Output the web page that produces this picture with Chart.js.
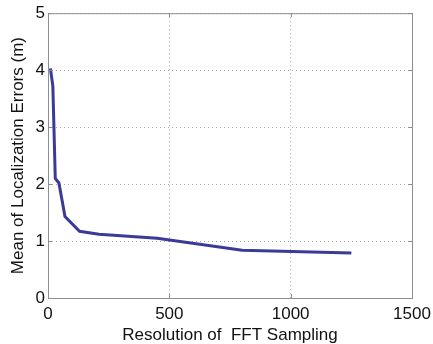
<!DOCTYPE html>
<html>
<head>
<meta charset="utf-8">
<script src="https://cdn.jsdelivr.net/npm/chart.js@4"></script>
<style>
  html, body { margin: 0; padding: 0; background: #fff; }
  #wrap { width: 433px; height: 344px; }
</style>
</head>
<body>
<div id="wrap"><canvas id="myChart"></canvas></div>
<script>
const resolution = [10, 20, 30, 45, 70, 130, 210, 450, 800, 1250];
const meanError = [4.03, 3.72, 2.1, 2.02, 1.43, 1.17, 1.12, 1.05, 0.84, 0.79];
const xTicks = [0, 500, 1000, 1500];
const yTicks = [0, 1, 2, 3, 4, 5];

const points = resolution.map((x, i) => ({ x: x, y: meanError[i] }));

// box around the plot area + small inward ticks, like matlab
const boxPlugin = {
   id: "box",
   afterDraw(chart) {
      const a = chart.chartArea;
      const c = chart.ctx;
      const sx = chart.scales.x, sy = chart.scales.y;
      c.save();
      c.strokeStyle = "#8a8f96";
      c.lineWidth = 1;
      c.strokeRect(a.left + 0.5, a.top + 0.5, a.right - a.left, a.bottom - a.top);
      c.beginPath();
      xTicks.forEach((v) => {
         const p = Math.round(sx.getPixelForValue(v)) + 0.5;
         c.moveTo(p, a.bottom); c.lineTo(p, a.bottom - 4);
         c.moveTo(p, a.top); c.lineTo(p, a.top + 4);
      });
      yTicks.forEach((v) => {
         const p = Math.round(sy.getPixelForValue(v)) + 0.5;
         c.moveTo(a.left, p); c.lineTo(a.left + 4, p);
         c.moveTo(a.right, p); c.lineTo(a.right - 4, p);
      });
      c.stroke();
      c.restore();
   },
};

const font = { family: "Liberation Sans, Arial, sans-serif", size: 17 };

const ctx = document.getElementById("myChart");
new Chart(ctx, {
   type: "line",
   data: {
      datasets: [
         {
            data: points,
            borderColor: "#3b3a96",
            borderWidth: 3,
            pointRadius: 0,
            tension: 0,
         },
      ],
   },
   options: {
      responsive: true,
      maintainAspectRatio: false,
      animation: false,
      layout: { padding: { top: 12, right: 21, left: 8, bottom: 0 } },
      plugins: {
         legend: { display: false },
         tooltip: { enabled: false },
      },
      scales: {
         x: {
            type: "linear",
            min: 0,
            max: 1500,
            afterBuildTicks: (s) => { s.ticks = xTicks.map((v) => ({ value: v })); },
            afterFit: (s) => {
               s.height = 46;
               s.paddingLeft = 0;
               s.paddingRight = 0;
            },
            ticks: {
               color: "#111",
               font: font,
               padding: 6,
               maxRotation: 0,
               callback: (v) => String(v),
            },
            grid: { color: "#a8a8a8", lineWidth: 1, drawTicks: false },
            border: { display: false, dash: [1, 3] },
            title: {
               display: true,
               text: "Resolution of  FFT Sampling",
               color: "#111",
               font: { family: font.family, size: 17, lineHeight: 1 },
               padding: { top: 0, bottom: 0 },
            },
         },
         y: {
            min: 0,
            max: 5,
            afterBuildTicks: (s) => { s.ticks = yTicks.map((v) => ({ value: v })); },
            afterFit: (s) => { s.width = 40; },
            ticks: { color: "#111", font: font, padding: 3 },
            grid: { color: "#a8a8a8", lineWidth: 1, drawTicks: false },
            border: { display: false, dash: [1, 3] },
            title: {
               display: true,
               text: "Mean of Localization Errors (m)",
               color: "#111",
               font: font,
               padding: { top: 0, bottom: 2 },
            },
         },
      },
   },
   plugins: [boxPlugin],
});
</script>
</body>
</html>
